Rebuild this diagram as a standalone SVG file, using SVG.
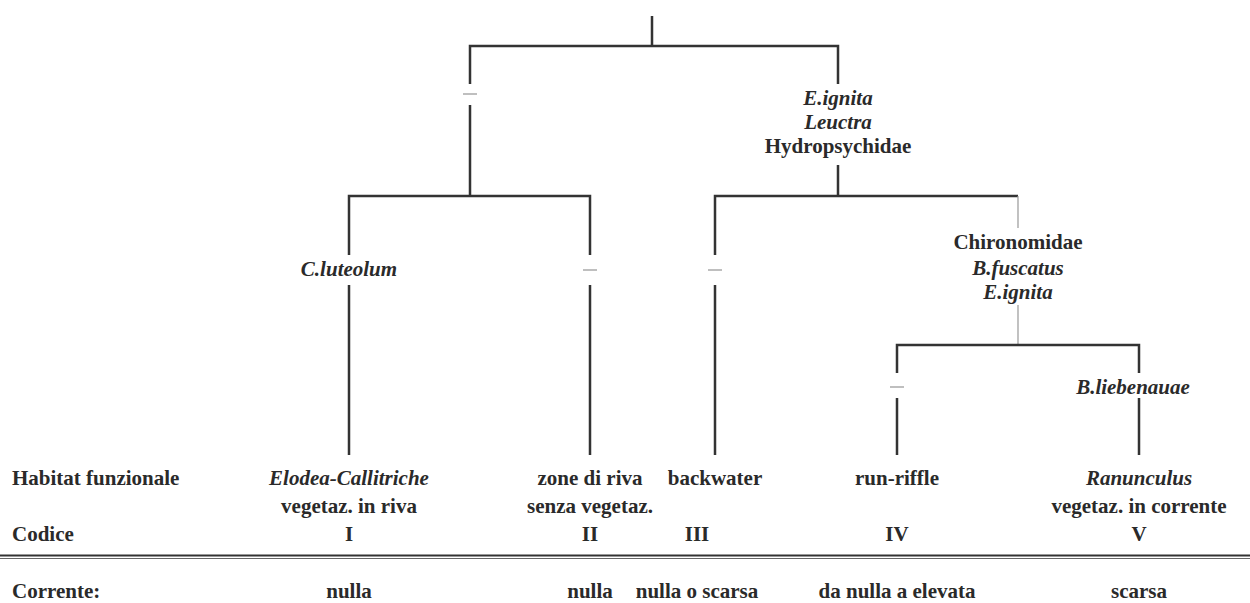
<svg xmlns="http://www.w3.org/2000/svg" width="1250" height="603" viewBox="0 0 1250 603">
<style>
text{font-family:"Liberation Serif","Times New Roman",serif;font-size:21px;font-weight:bold;fill:#2a2a2a}
.c{text-anchor:middle}
.i{font-style:italic}
.ln{stroke:#333;stroke-width:2.5;fill:none}
.th{stroke:#999;stroke-width:1.2;fill:none}
.dash{stroke:#aaa;stroke-width:1.5}
</style>
<rect width="1250" height="603" fill="#fff"/>
<g id="connectors">
<path class="ln" d="M652 16V46M470 84V46H838V84"/>
<path class="ln" d="M470 105V196M349 255V196H590V255M838 165V196M715 255V196H1018"/>
<path class="th" d="M1018 196V228M1018 305V345"/>
<path class="ln" d="M349 285V455M590 285V455M715 285V455"/>
<path class="ln" d="M897 373V345H1139V373M897 398V455M1139 398V455"/>
</g>
<g id="n-left"><line class="dash" x1="463" y1="94" x2="477" y2="94"/></g>
<g id="n-right">
<text class="c i" x="838" y="105">E.ignita</text>
<text class="c i" x="838" y="129">Leuctra</text>
<text class="c" x="838" y="153">Hydropsychidae</text>
</g>
<g id="n-cluteolum"><text class="c i" x="349" y="276">C.luteolum</text></g>
<g id="n-ii"><line class="dash" x1="583" y1="270" x2="597" y2="270"/></g>
<g id="n-iii"><line class="dash" x1="708" y1="270" x2="722" y2="270"/></g>
<g id="n-chiro">
<text class="c" x="1018" y="249">Chironomidae</text>
<text class="c i" x="1018" y="275">B.fuscatus</text>
<text class="c i" x="1018" y="299">E.ignita</text>
</g>
<g id="n-iv"><line class="dash" x1="890" y1="387" x2="904" y2="387"/></g>
<g id="n-bl"><text class="c i" x="1133" y="394">B.liebenauae</text></g>
<g id="table">
<text x="12" y="485">Habitat funzionale</text>
<text class="c i" x="349" y="485">Elodea-Callitriche</text>
<text class="c" x="349" y="513">vegetaz. in riva</text>
<text class="c" x="590" y="485">zone di riva</text>
<text class="c" x="590" y="513">senza vegetaz.</text>
<text class="c" x="715" y="485">backwater</text>
<text class="c" x="897" y="485">run-riffle</text>
<text class="c i" x="1139" y="485">Ranunculus</text>
<text class="c" x="1139" y="513">vegetaz. in corrente</text>
<text x="12" y="541">Codice</text>
<text class="c" x="349" y="541">I</text>
<text class="c" x="590" y="541">II</text>
<text class="c" x="697" y="541">III</text>
<text class="c" x="897" y="541">IV</text>
<text class="c" x="1139" y="541">V</text>
<line x1="0" y1="555.5" x2="1250" y2="555.5" stroke="#333" stroke-width="2"/>
<line x1="0" y1="558.5" x2="1250" y2="558.5" stroke="#666" stroke-width="1"/>
<text x="12" y="598">Corrente:</text>
<text class="c" x="349" y="598">nulla</text>
<text class="c" x="590" y="598">nulla</text>
<text class="c" x="697" y="598">nulla o scarsa</text>
<text class="c" x="897" y="598">da nulla a elevata</text>
<text class="c" x="1139" y="598">scarsa</text>
</g>
</svg>
